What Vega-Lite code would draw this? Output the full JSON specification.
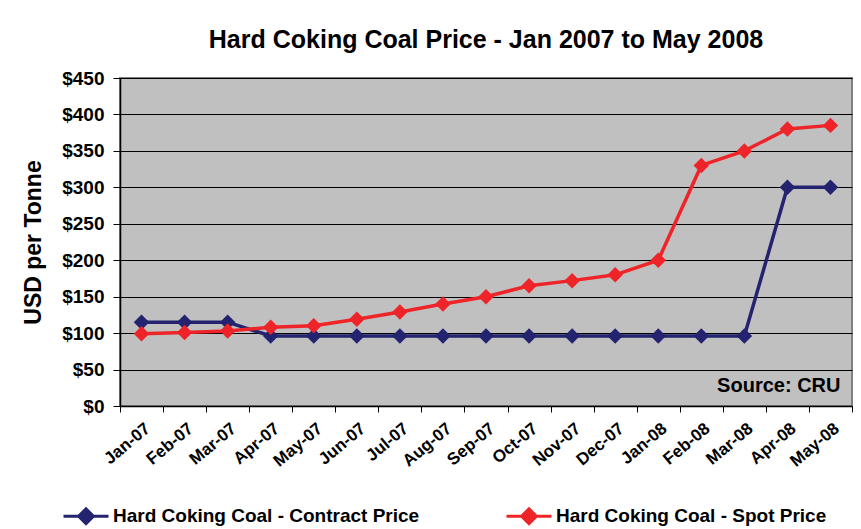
{
  "$schema": "https://vega.github.io/schema/vega-lite/v6.json",
  "width": 732,
  "height": 328,
  "autosize": {"type": "none"},
  "padding": {"left": 120, "top": 78, "right": 9, "bottom": 123},
  "background": "white",
  "title": {
    "text": "Hard Coking Coal Price - Jan 2007 to May 2008",
    "font": "Liberation Sans",
    "fontSize": 25,
    "fontWeight": "bold",
    "color": "black",
    "anchor": "middle",
    "frame": "group",
    "offset": 16
  },
  "config": {
    "font": "Liberation Sans",
    "view": {"fill": "#C0C0C0", "stroke": "#808080", "strokeWidth": 2}
  },
  "data": {
    "values": [
      {"month": "Jan-07", "series": "Hard Coking Coal - Contract Price", "price": 115},
      {"month": "Feb-07", "series": "Hard Coking Coal - Contract Price", "price": 115},
      {"month": "Mar-07", "series": "Hard Coking Coal - Contract Price", "price": 115},
      {"month": "Apr-07", "series": "Hard Coking Coal - Contract Price", "price": 96},
      {"month": "May-07", "series": "Hard Coking Coal - Contract Price", "price": 96},
      {"month": "Jun-07", "series": "Hard Coking Coal - Contract Price", "price": 96},
      {"month": "Jul-07", "series": "Hard Coking Coal - Contract Price", "price": 96},
      {"month": "Aug-07", "series": "Hard Coking Coal - Contract Price", "price": 96},
      {"month": "Sep-07", "series": "Hard Coking Coal - Contract Price", "price": 96},
      {"month": "Oct-07", "series": "Hard Coking Coal - Contract Price", "price": 96},
      {"month": "Nov-07", "series": "Hard Coking Coal - Contract Price", "price": 96},
      {"month": "Dec-07", "series": "Hard Coking Coal - Contract Price", "price": 96},
      {"month": "Jan-08", "series": "Hard Coking Coal - Contract Price", "price": 96},
      {"month": "Feb-08", "series": "Hard Coking Coal - Contract Price", "price": 96},
      {"month": "Mar-08", "series": "Hard Coking Coal - Contract Price", "price": 96},
      {"month": "Apr-08", "series": "Hard Coking Coal - Contract Price", "price": 300},
      {"month": "May-08", "series": "Hard Coking Coal - Contract Price", "price": 300},
      {"month": "Jan-07", "series": "Hard Coking Coal - Spot Price", "price": 99},
      {"month": "Feb-07", "series": "Hard Coking Coal - Spot Price", "price": 101},
      {"month": "Mar-07", "series": "Hard Coking Coal - Spot Price", "price": 103},
      {"month": "Apr-07", "series": "Hard Coking Coal - Spot Price", "price": 108},
      {"month": "May-07", "series": "Hard Coking Coal - Spot Price", "price": 110},
      {"month": "Jun-07", "series": "Hard Coking Coal - Spot Price", "price": 119},
      {"month": "Jul-07", "series": "Hard Coking Coal - Spot Price", "price": 129},
      {"month": "Aug-07", "series": "Hard Coking Coal - Spot Price", "price": 140},
      {"month": "Sep-07", "series": "Hard Coking Coal - Spot Price", "price": 150},
      {"month": "Oct-07", "series": "Hard Coking Coal - Spot Price", "price": 165},
      {"month": "Nov-07", "series": "Hard Coking Coal - Spot Price", "price": 172},
      {"month": "Dec-07", "series": "Hard Coking Coal - Spot Price", "price": 180},
      {"month": "Jan-08", "series": "Hard Coking Coal - Spot Price", "price": 200},
      {"month": "Feb-08", "series": "Hard Coking Coal - Spot Price", "price": 330},
      {"month": "Mar-08", "series": "Hard Coking Coal - Spot Price", "price": 350},
      {"month": "Apr-08", "series": "Hard Coking Coal - Spot Price", "price": 380},
      {"month": "May-08", "series": "Hard Coking Coal - Spot Price", "price": 385}
    ]
  },
  "encoding": {
    "x": {
      "field": "month",
      "type": "ordinal",
      "sort": null,
      "scale": {"type": "band", "paddingInner": 0, "paddingOuter": 0},
      "bandPosition": 0.5,
      "axis": {
        "title": null,
        "tickBand": "extent",
        "labelAngle": -40,
        "labelAlign": "right",
        "labelBaseline": "middle",
        "labelFontSize": 17,
        "labelFontWeight": "bold",
        "labelColor": "black",
        "labelPadding": 14,
        "labelOffset": 6,
        "tickColor": "black",
        "tickSize": 6,
        "domainColor": "black",
        "domainWidth": 1.5,
        "grid": false
      }
    },
    "y": {
      "field": "price",
      "type": "quantitative",
      "scale": {"domain": [0, 450], "nice": false},
      "axis": {
        "title": "USD per Tonne",
        "titleFontSize": 23,
        "titleFontWeight": "bold",
        "titleColor": "black",
        "titlePadding": 16,
        "values": [0, 50, 100, 150, 200, 250, 300, 350, 400, 450],
        "labelExpr": "'$' + datum.value",
        "labelFontSize": 19,
        "labelFontWeight": "bold",
        "labelColor": "black",
        "labelPadding": 9,
        "tickColor": "black",
        "tickSize": 7,
        "domainColor": "black",
        "domainWidth": 1.5,
        "gridColor": "black",
        "gridWidth": 1
      }
    }
  },
  "layer": [
    {
      "mark": {"type": "line", "strokeWidth": 3.5},
      "encoding": {
        "color": {
          "field": "series",
          "type": "nominal",
          "scale": {
            "domain": ["Hard Coking Coal - Contract Price", "Hard Coking Coal - Spot Price"],
            "range": ["#23236F", "#EE2428"]
          },
          "legend": {
            "title": null,
            "orient": "none",
            "legendX": -58,
            "legendY": 414,
            "direction": "horizontal",
            "columns": 2,
            "columnPadding": 80,
            "symbolType": "M-1,0H1M0,-0.33L0.33,0L0,0.33L-0.33,0Z",
            "symbolSize": 2025,
            "symbolStrokeWidth": 3,
            "labelFontSize": 19,
            "labelFontWeight": "bold",
            "labelColor": "black",
            "labelOffset": 3,
            "labelLimit": 400,
            "encode": {
              "symbols": {
                "update": {
                  "fill": {"scale": "color", "field": "value"},
                  "stroke": {"scale": "color", "field": "value"},
                  "strokeWidth": {"value": 3}
                }
              }
            }
          }
        }
      }
    },
    {
      "mark": {"type": "point", "shape": "diamond", "filled": true, "size": 240, "opacity": 1},
      "encoding": {
        "color": {"field": "series", "type": "nominal", "legend": null}
      }
    },
    {
      "data": {"values": [{"month": "May-08", "price": 27, "label": "Source: CRU"}]},
      "mark": {"type": "text", "align": "right", "baseline": "middle", "dx": 10, "fontSize": 20, "fontWeight": "bold", "color": "black"},
      "encoding": {
        "x": {"field": "month", "type": "ordinal"},
        "y": {"field": "price", "type": "quantitative"},
        "text": {"field": "label"}
      }
    }
  ]
}
